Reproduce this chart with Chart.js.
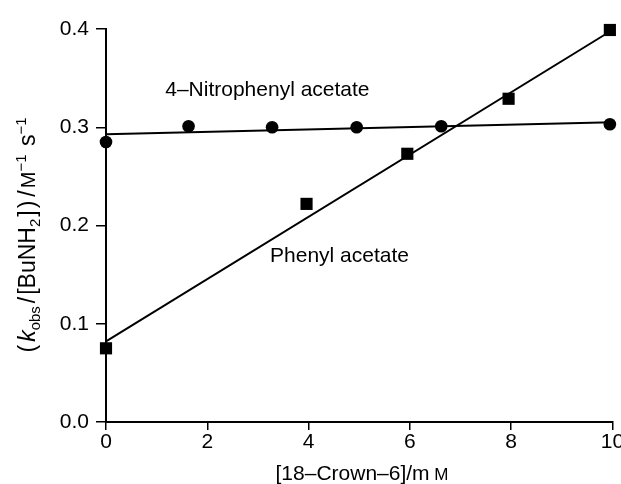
<!DOCTYPE html>
<html>
<head>
<meta charset="utf-8">
<script src="https://cdn.jsdelivr.net/npm/chart.js@4"></script>
<style>
  html, body { margin: 0; padding: 0; background: #fff; }
  #caja { width: 621px; height: 484px; }
</style>
</head>
<body>
<div id="caja"><canvas id="grafico"></canvas></div>
<script>
/* Datos: [18-crown-6] en mM frente a kobs/[BuNH2]. */
const nitroX = [0, 1.63, 3.28, 4.95, 6.62, 9.95];
const nitroY = [0.285, 0.301, 0.300, 0.300, 0.301, 0.303];
const fenilX = [0, 3.96, 5.95, 7.95, 9.95];
const fenilY = [0.075, 0.222, 0.273, 0.329, 0.399];

// Rectas de ajuste (extremos en x = 0 y x = 10)
const ajusteX = [0, 10];
const nitroAjuste = [0.293, 0.305];
const fenilAjuste = [0.082, 0.399];

const xTicks = [0, 2, 4, 6, 8, 10];
const yTicks = [0.0, 0.1, 0.2, 0.3, 0.4];

const etiquetas = [
  { texto: '4–Nitrophenyl acetate', x: 1.17, y: 0.338 },
  { texto: 'Phenyl acetate', x: 3.24, y: 0.169 },
];

const FUENTE = '"Liberation Sans", Arial, Helvetica, sans-serif';
const NEGRO = '#000';

const pares = (xs, ys) => xs.map((x, i) => ({ x, y: ys[i] }));

/* Títulos de eje con subíndices y superíndices: Chart.js no los sabe dibujar,
 * así que se pintan por tramos (g = hueco extra tras el tramo). */
function fuente(p) { return `${p.it ? 'italic ' : ''}${p.t}px ${FUENTE}`; }
function ancho(ctx, partes) {
  return partes.reduce((w, p) => { ctx.font = fuente(p); return w + ctx.measureText(p.s).width + (p.g || 0); }, 0);
}
function tramos(ctx, partes, x, y) {
  let cx = x;
  partes.forEach((p) => {
    ctx.font = fuente(p);
    ctx.fillText(p.s, cx, y + (p.dy || 0));
    cx += ctx.measureText(p.s).width + (p.g || 0);
  });
}

const tituloY = [
  { s: '(', t: 23, g: 3 }, { s: 'k', t: 23, it: true }, { s: 'obs', t: 15, dy: 5, g: 3 },
  { s: '/', t: 23, g: 2 }, { s: '[BuNH', t: 23 }, { s: '2', t: 15, dy: 5, g: 2 },
  { s: ']', t: 23, g: 2 }, { s: ')', t: 23, g: 4 }, { s: '/', t: 23, g: 2 },
  { s: 'M', t: 20 }, { s: '−1', t: 15, dy: -9, g: 2 },
  { s: ' s', t: 23 }, { s: '−1', t: 15, dy: -9 },
];
const tituloX = [
  { s: '[18–Crown–6]/m', t: 21 }, { s: ' M', t: 17 },
];

const textos = {
  id: 'textos',
  afterDraw(chart) {
    const { ctx, scales } = chart;
    ctx.save();
    ctx.fillStyle = NEGRO;
    ctx.textAlign = 'left';
    ctx.font = `21px ${FUENTE}`;
    ctx.textBaseline = 'middle';
    etiquetas.forEach((e) => {
      ctx.fillText(e.texto, scales.x.getPixelForValue(e.x), scales.y.getPixelForValue(e.y));
    });
    ctx.textBaseline = 'alphabetic';
    // eje x
    const wx = ancho(ctx, tituloX);
    tramos(ctx, tituloX, 362 - wx / 2, 480);
    // eje y (girado)
    const wy = ancho(ctx, tituloY);
    ctx.translate(35, 235);
    ctx.rotate(-Math.PI / 2);
    tramos(ctx, tituloY, -wy / 2, 0);
    ctx.restore();
  },
};

const serie = (datos, estilo, radio) => ({
  data: datos, showLine: false, pointStyle: estilo, pointRadius: radio,
  pointBackgroundColor: NEGRO, pointBorderColor: NEGRO, pointBorderWidth: 0, clip: false,
});
const recta = (datos) => ({
  data: datos, showLine: true, borderColor: NEGRO, borderWidth: 2,
  pointRadius: 0, clip: false,
});

new Chart(document.getElementById('grafico'), {
  type: 'scatter',
  data: {
    datasets: [
      recta(pares(ajusteX, nitroAjuste)),
      recta(pares(ajusteX, fenilAjuste)),
      serie(pares(nitroX, nitroY), 'circle', 6.3),
      serie(pares(fenilX, fenilY), 'rect', 8.6),
    ],
  },
  options: {
    responsive: true,
    maintainAspectRatio: false,
    animation: false,
    layout: { padding: { top: 29, right: 2, left: 0, bottom: 0 } },
    plugins: { legend: { display: false }, tooltip: { enabled: false } },
    scales: {
      x: {
        type: 'linear', min: 0, max: 10,
        afterBuildTicks: (s) => { s.ticks = xTicks.map((v) => ({ value: v })); },
        afterFit: (s) => { s.height = 62; s.paddingLeft = 0; s.paddingRight = 0; },
        border: { color: NEGRO, width: 2 },
        grid: { drawOnChartArea: false, drawTicks: true, tickLength: 8, color: NEGRO, lineWidth: 1.5 },
        ticks: { color: NEGRO, font: { family: FUENTE, size: 21 }, padding: 0, maxRotation: 0 },
      },
      y: {
        type: 'linear', min: 0, max: 0.4,
        afterBuildTicks: (s) => { s.ticks = yTicks.map((v) => ({ value: v })); },
        afterFit: (s) => { s.width = 106; s.paddingTop = 0; s.paddingBottom = 0; },
        border: { color: NEGRO, width: 2 },
        grid: { drawOnChartArea: false, drawTicks: true, tickLength: 10, color: NEGRO, lineWidth: 1.5 },
        ticks: { color: NEGRO, font: { family: FUENTE, size: 21 }, padding: 7, callback: (v) => v.toFixed(1) },
      },
    },
  },
  plugins: [textos],
});
</script>
</body>
</html>
